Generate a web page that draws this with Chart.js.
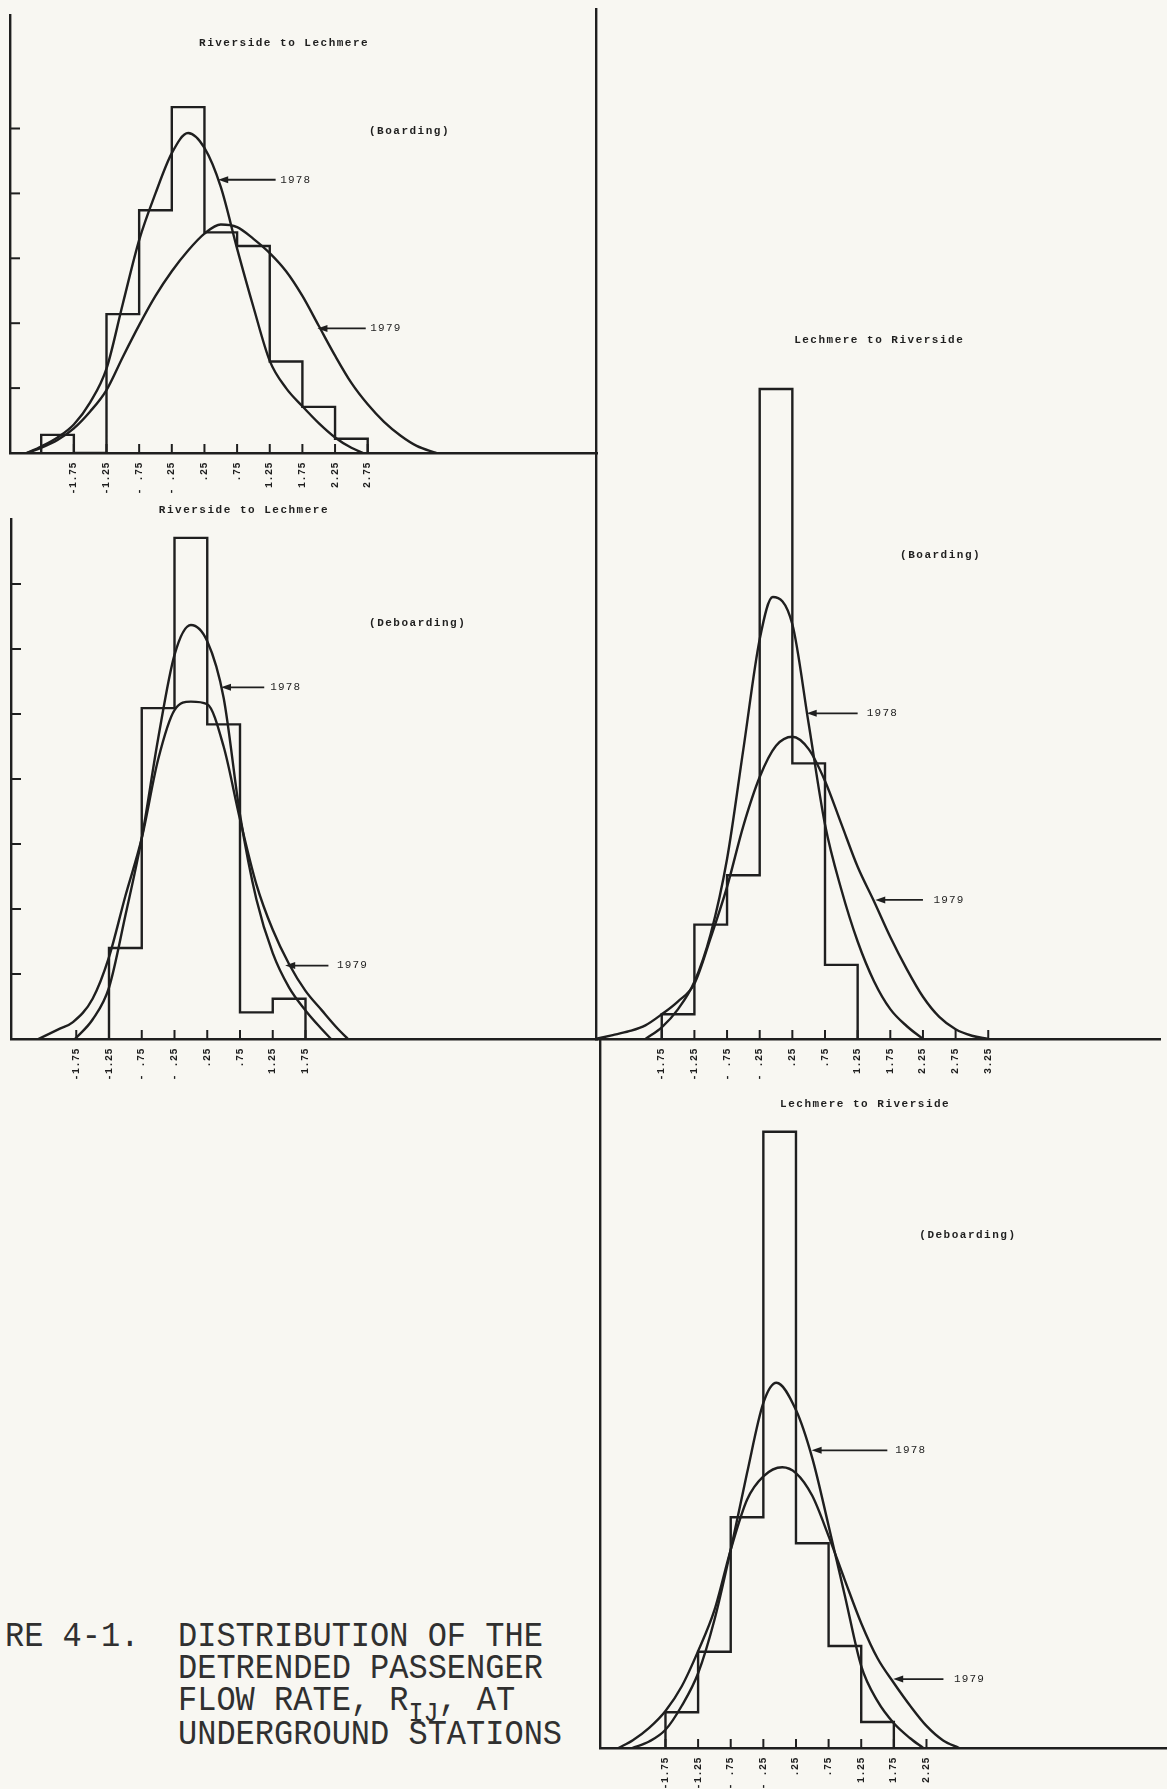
<!DOCTYPE html>
<html lang="en">
<head>
<meta charset="utf-8">
<title>Figure 4-1</title>
<script src="https://cdn.jsdelivr.net/npm/chart.js@4.4.1/dist/chart.umd.min.js"></script>
<style>
	html, body { margin: 0; padding: 0; background: #f8f7f2; }
	body { position: relative; width: 1167px; height: 1789px; overflow: hidden; }
	canvas { position: absolute; }
	.caption { position: absolute; margin: 0; font-family: "Liberation Mono", "DejaVu Sans Mono", monospace; font-size: 32px; line-height: 29.1px; color: #303030; white-space: pre; transform: scaleY(1.1); transform-origin: 0 0; }
	.caption .sub { font-size: 25px; position: relative; top: 10px; }
</style>
</head>
<body>
<canvas id="boardRL"></canvas>
<canvas id="deboardRL"></canvas>
<canvas id="boardLR"></canvas>
<canvas id="deboardLR"></canvas>
<div class="caption" style="left:5px; top:1621px;">RE 4-1.</div>
<div class="caption" style="left:178px; top:1621px;">DISTRIBUTION OF THE
DETRENDED PASSENGER
FLOW RATE, R<span class="sub">IJ</span>, AT
UNDERGROUND STATIONS</div>
<script>
const INK = "#1f1f1f";

// Riverside to Lechmere (Boarding)
const rlBoardEdges  = [-2.25, -1.75, -1.25, -0.75, -0.25, 0.25, 0.75, 1.25, 1.75, 2.25, 2.75];
const rlBoardCounts = [0.28, 0, 2.14, 3.74, 5.33, 3.40, 3.19, 1.41, 0.71, 0.22];
const rlBoard78X = [-2.47, -2.25, -2.0, -1.75, -1.5, -1.25, -1.0, -0.75, -0.5, -0.25, 0.0, 0.25, 0.5, 0.75, 1.0, 1.25, 1.5, 1.75, 2.0, 2.25, 2.5, 2.68];
const rlBoard78Y = [0, 0.10, 0.24, 0.44, 0.78, 1.30, 2.30, 3.28, 4.00, 4.62, 4.93, 4.70, 4.10, 3.15, 2.25, 1.42, 1.00, 0.72, 0.46, 0.24, 0.08, 0];
const rlBoard79X = [-2.47, -2.25, -2.0, -1.75, -1.5, -1.25, -1.0, -0.75, -0.5, -0.25, 0.0, 0.25, 0.5, 0.75, 1.0, 1.25, 1.5, 1.75, 2.0, 2.25, 2.5, 2.75, 3.0, 3.25, 3.5, 3.8];
const rlBoard79Y = [0, 0.08, 0.20, 0.38, 0.64, 0.97, 1.48, 1.97, 2.42, 2.80, 3.12, 3.38, 3.52, 3.48, 3.30, 3.08, 2.80, 2.42, 1.96, 1.50, 1.08, 0.75, 0.48, 0.27, 0.11, 0];
const rlBoardTicks = [-1.75, -1.25, -0.75, -0.25, 0.25, 0.75, 1.25, 1.75, 2.25, 2.75];
const rlBoardTickLabels = ["-1.75", "-1.25", "- .75", "- .25", ".25", ".75", "1.25", "1.75", "2.25", "2.75"];

// Riverside to Lechmere (Deboarding)
const rlDeboardEdges  = [-1.25, -0.75, -0.25, 0.25, 0.75, 1.25, 1.75];
const rlDeboardCounts = [1.40, 5.09, 7.71, 4.84, 0.41, 0.62];
const rlDeboard78X = [-1.77, -1.5, -1.25, -1.0, -0.75, -0.5, -0.25, 0.0, 0.25, 0.5, 0.75, 1.0, 1.25, 1.5, 1.75, 2.0, 2.14];
const rlDeboard78Y = [0, 0.30, 0.79, 1.90, 3.09, 4.62, 5.91, 6.37, 6.12, 5.25, 3.45, 2.15, 1.32, 0.79, 0.44, 0.15, 0];
const rlDeboard79X = [-2.33, -2.0, -1.8, -1.5, -1.25, -1.0, -0.75, -0.5, -0.25, 0.0, 0.25, 0.5, 0.75, 1.0, 1.25, 1.5, 1.75, 2.0, 2.25, 2.4];
const rlDeboard79Y = [0, 0.16, 0.26, 0.62, 1.26, 2.20, 3.09, 4.30, 5.06, 5.19, 5.15, 4.50, 3.38, 2.38, 1.68, 1.15, 0.74, 0.44, 0.15, 0];
const rlDeboardTicks = [-1.75, -1.25, -0.75, -0.25, 0.25, 0.75, 1.25, 1.75];
const rlDeboardTickLabels = ["-1.75", "-1.25", "- .75", "- .25", ".25", ".75", "1.25", "1.75"];

// Lechmere to Riverside (Boarding)
const lrBoardEdges  = [-1.75, -1.25, -0.75, -0.25, 0.25, 0.75, 1.25];
const lrBoardCounts = [0.38, 1.76, 2.52, 10.0, 4.24, 1.14];
const lrBoard78X = [-2.0, -1.75, -1.5, -1.25, -1.0, -0.75, -0.5, -0.25, -0.05, 0.25, 0.5, 0.75, 1.0, 1.25, 1.5, 1.75, 2.0, 2.25];
const lrBoard78Y = [0, 0.18, 0.46, 0.88, 1.62, 2.77, 4.46, 6.15, 6.80, 6.38, 4.85, 3.30, 2.30, 1.50, 0.89, 0.46, 0.20, 0];
const lrBoard79X = [-2.77, -2.5, -2.25, -2.0, -1.75, -1.5, -1.25, -1.0, -0.75, -0.5, -0.25, 0.0, 0.25, 0.5, 0.75, 1.0, 1.25, 1.5, 1.75, 2.0, 2.25, 2.5, 2.75, 3.0, 3.25];
const lrBoard79Y = [0, 0.06, 0.12, 0.21, 0.38, 0.58, 0.85, 1.56, 2.34, 3.28, 4.03, 4.51, 4.65, 4.46, 3.97, 3.31, 2.65, 2.12, 1.57, 1.08, 0.65, 0.34, 0.15, 0.05, 0];
const lrBoardTicks = [-1.75, -1.25, -0.75, -0.25, 0.25, 0.75, 1.25, 1.75, 2.25, 2.75, 3.25];
const lrBoardTickLabels = ["-1.75", "-1.25", "- .75", "- .25", ".25", ".75", "1.25", "1.75", "2.25", "2.75", "3.25"];

// Lechmere to Riverside (Deboarding)
const lrDeboardEdges  = [-1.75, -1.25, -0.75, -0.25, 0.25, 0.75, 1.25, 1.75];
const lrDeboardCounts = [0.55, 1.48, 3.55, 9.48, 3.15, 1.57, 0.40];
const lrDeboard78X = [-2.26, -2.0, -1.75, -1.5, -1.25, -1.0, -0.75, -0.5, -0.25, -0.05, 0.25, 0.5, 0.75, 1.0, 1.25, 1.5, 1.75, 2.0, 2.2];
const lrDeboard78Y = [0, 0.10, 0.28, 0.65, 1.15, 1.97, 3.05, 4.23, 5.31, 5.62, 5.20, 4.46, 3.42, 2.34, 1.26, 0.72, 0.38, 0.15, 0];
const lrDeboard79X = [-2.47, -2.25, -2.0, -1.75, -1.5, -1.25, -1.0, -0.75, -0.5, -0.25, 0.04, 0.25, 0.5, 0.75, 1.0, 1.25, 1.5, 1.75, 2.0, 2.25, 2.5, 2.75];
const lrDeboard79Y = [0, 0.12, 0.31, 0.57, 0.95, 1.49, 2.12, 3.05, 3.82, 4.18, 4.32, 4.23, 3.88, 3.26, 2.58, 1.92, 1.38, 1.00, 0.65, 0.34, 0.12, 0];
const lrDeboardTicks = [-1.75, -1.25, -0.75, -0.25, 0.25, 0.75, 1.25, 1.75, 2.25];
const lrDeboardTickLabels = ["-1.75", "-1.25", "- .75", "- .25", ".25", ".75", "1.25", "1.75", "2.25"];

// where each panel sits on the page (pixels), and the scale of its axes
const panels = [
	{
		id: "boardRL", area: { left: 10, top: 15, right: 597, bottom: 453 }, refValue: -1.25, refPx: 106.5, pxPerX: 65.3, pxPerY: 64.9,
		edges: rlBoardEdges, counts: rlBoardCounts, c78: [rlBoard78X, rlBoard78Y], c79: [rlBoard79X, rlBoard79Y],
		ticks: rlBoardTicks, tickLabels: rlBoardTickLabels, yTicks: [1, 2, 3, 4, 5],
		texts: [
			{ text: "Riverside to Lechmere", x: 1.47, y: 6.32, align: "center" },
			{ text: "(Boarding)", x: 2.77, y: 4.96, align: "left" }
		],
		arrows: [
			{ text: "1978", tipX: 0.46, tipY: 4.21, tailX: 1.34, textX: 1.41 },
			{ text: "1979", tipX: 1.98, tipY: 1.92, tailX: 2.72, textX: 2.79 }
		]
	},
	{
		id: "deboardRL", area: { left: 11, top: 519, right: 597, bottom: 1039 }, refValue: -1.25, refPx: 109, pxPerX: 65.5, pxPerY: 65,
		edges: rlDeboardEdges, counts: rlDeboardCounts, c78: [rlDeboard78X, rlDeboard78Y], c79: [rlDeboard79X, rlDeboard79Y],
		ticks: rlDeboardTicks, tickLabels: rlDeboardTickLabels, yTicks: [1, 2, 3, 4, 5, 6, 7],
		texts: [
			{ text: "Riverside to Lechmere", x: 0.81, y: 8.13, align: "center" },
			{ text: "(Deboarding)", x: 2.72, y: 6.39, align: "left" }
		],
		arrows: [
			{ text: "1978", tipX: 0.46, tipY: 5.41, tailX: 1.12, textX: 1.21 },
			{ text: "1979", tipX: 1.44, tipY: 1.13, tailX: 2.10, textX: 2.23 }
		]
	},
	{
		id: "boardLR", area: { left: 596, top: 9, right: 1160, bottom: 1039 }, refValue: -1.25, refPx: 694.4, pxPerX: 65.3, pxPerY: 65,
		edges: lrBoardEdges, counts: lrBoardCounts, c78: [lrBoard78X, lrBoard78Y], c79: [lrBoard79X, lrBoard79Y],
		ticks: lrBoardTicks, tickLabels: lrBoardTickLabels, yTicks: [],
		texts: [
			{ text: "Lechmere to Riverside", x: 1.58, y: 10.75, align: "center" },
			{ text: "(Boarding)", x: 1.90, y: 7.45, align: "left" }
		],
		arrows: [
			{ text: "1978", tipX: 0.47, tipY: 5.01, tailX: 1.25, textX: 1.39 },
			{ text: "1979", tipX: 1.52, tipY: 2.14, tailX: 2.25, textX: 2.41 }
		]
	},
	{
		id: "deboardLR", area: { left: 600, top: 1039, right: 1167, bottom: 1748 }, refValue: -1.25, refPx: 698.1, pxPerX: 65.25, pxPerY: 65,
		edges: lrDeboardEdges, counts: lrDeboardCounts, c78: [lrDeboard78X, lrDeboard78Y], c79: [lrDeboard79X, lrDeboard79Y],
		ticks: lrDeboardTicks, tickLabels: lrDeboardTickLabels, yTicks: [],
		texts: [
			{ text: "Lechmere to Riverside", x: 1.31, y: 9.91, align: "center" },
			{ text: "(Deboarding)", x: 2.14, y: 7.89, align: "left" }
		],
		arrows: [
			{ text: "1978", tipX: 0.49, tipY: 4.58, tailX: 1.65, textX: 1.77 },
			{ text: "1979", tipX: 1.74, tipY: 1.06, tailX: 2.51, textX: 2.67 }
		]
	}
];

function stepPoints(edges, counts)
{
	const pts = [{ x: edges[0], y: 0 }];
	counts.forEach((c, i) => pts.push({ x: edges[i], y: c }));
	pts.push({ x: edges[edges.length - 1], y: 0 });
	return pts;
}

function curvePoints(pair)
{
	return pair[0].map((x, i) => ({ x: x, y: pair[1][i] }));
}

function inkPlugin(p)
{
	return {
		id: "ink",
		beforeDraw(chart) { chart.ctx.letterSpacing = "0.5px"; },
		afterDraw(chart)
		{
			const ctx = chart.ctx, xs = chart.scales.x, ys = chart.scales.y;
			const base = ys.getPixelForValue(0);
			ctx.save();
			ctx.strokeStyle = INK;
			ctx.fillStyle = INK;
			ctx.lineWidth = 2;
			// tick marks point inwards on this figure
			for (const v of p.ticks)
			{
				const px = xs.getPixelForValue(v);
				ctx.beginPath(); ctx.moveTo(px, base); ctx.lineTo(px, base - 9); ctx.stroke();
			}
			for (const v of p.yTicks)
			{
				const py = ys.getPixelForValue(v);
				ctx.beginPath(); ctx.moveTo(xs.left, py); ctx.lineTo(xs.left + 10, py); ctx.stroke();
			}
			ctx.textBaseline = "middle";
			for (const a of p.arrows)
			{
				const tip = xs.getPixelForValue(a.tipX), tail = xs.getPixelForValue(a.tailX), py = ys.getPixelForValue(a.tipY);
				ctx.lineWidth = 1.8;
				ctx.beginPath(); ctx.moveTo(tip + 7, py); ctx.lineTo(tail, py); ctx.stroke();
				ctx.beginPath(); ctx.moveTo(tip, py); ctx.lineTo(tip + 10, py - 3.5); ctx.lineTo(tip + 10, py + 3.5); ctx.closePath(); ctx.fill();
				ctx.font = "11px 'Liberation Mono', monospace";
				ctx.letterSpacing = "1.2px";
				ctx.textAlign = "left";
				ctx.fillText(a.text, xs.getPixelForValue(a.textX), py);
			}
			for (const t of p.texts)
			{
				ctx.font = "bold 11px 'Liberation Mono', monospace";
				ctx.letterSpacing = "1.5px";
				ctx.textAlign = t.align;
				ctx.fillText(t.text, xs.getPixelForValue(t.x), ys.getPixelForValue(t.y));
			}
			ctx.restore();
		}
	};
}

function buildPanel(p)
{
	const a = p.area;
	const padL = 20, padR = 12, padT = 30, axisH = 46;
	const cv = document.getElementById(p.id);
	cv.width = a.right - a.left + padL + padR;
	cv.height = a.bottom - a.top + padT + axisH;
	cv.style.left = (a.left - padL) + "px";
	cv.style.top = (a.top - padT) + "px";

	const xMin = p.refValue - (p.refPx - a.left) / p.pxPerX;
	const xMax = p.refValue + (a.right - p.refPx) / p.pxPerX;
	const yMax = (a.bottom - a.top) / p.pxPerY;
	const lineStyle = { borderColor: INK, borderWidth: 2.4, pointRadius: 0, fill: false };

	return new Chart(cv.getContext("2d"),
	{
		type: "line",
		data:
		{
			datasets:
			[
				Object.assign({ label: "histogram", data: stepPoints(p.edges, p.counts), stepped: true }, lineStyle),
				Object.assign({ label: "1978", data: curvePoints(p.c78), cubicInterpolationMode: "monotone" }, lineStyle),
				Object.assign({ label: "1979", data: curvePoints(p.c79), cubicInterpolationMode: "monotone" }, lineStyle)
			]
		},
		options:
		{
			responsive: false,
			animation: false,
			devicePixelRatio: 1,
			layout: { autoPadding: false, padding: { left: padL, right: padR, top: padT, bottom: 0 } },
			plugins: { legend: { display: false }, tooltip: { enabled: false } },
			scales:
			{
				x:
				{
					type: "linear", position: "bottom", min: xMin, max: xMax,
					grid: { display: false, drawTicks: false },
					border: { display: true, color: INK, width: 2.4 },
					afterBuildTicks: (axis) => { axis.ticks = p.ticks.map(v => ({ value: v })); },
					afterFit: (axis) => { axis.height = axisH; },
					ticks:
					{
						autoSkip: false, minRotation: 90, maxRotation: 90, padding: 9, color: INK,
						font: { family: "'Liberation Mono', monospace", size: 10, weight: "bold" },
						callback: (value, index) => p.tickLabels[index]
					}
				},
				y:
				{
					type: "linear", position: "left", min: 0, max: yMax,
					grid: { display: false, drawTicks: false },
					border: { display: true, color: INK, width: 2.4 },
					ticks: { display: false },
					afterFit: (axis) => { axis.width = 0; }
				}
			}
		},
		plugins: [inkPlugin(p)]
	});
}

panels.forEach(buildPanel);
</script>
</body>
</html>
